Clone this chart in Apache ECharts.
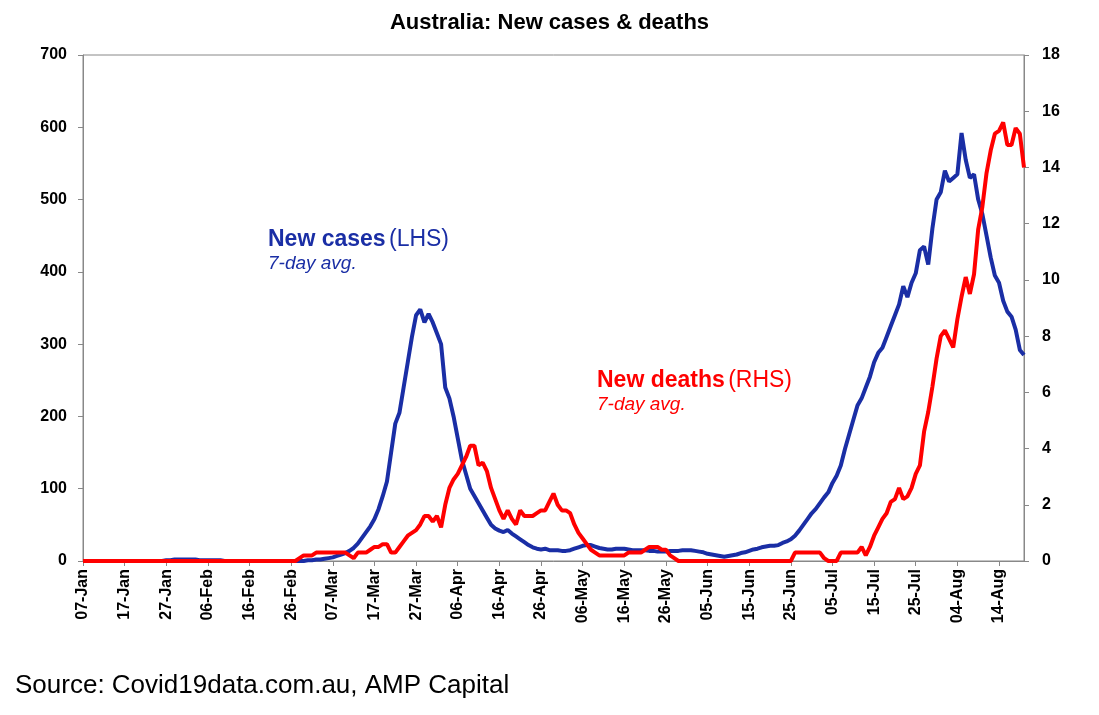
<!DOCTYPE html>
<html>
<head>
<meta charset="utf-8">
<script src="https://cdn.jsdelivr.net/npm/echarts@6/dist/echarts.min.js"></script>
<style>html,body{margin:0;padding:0;background:#fff}#c{width:1099px;height:715px}</style>
</head>
<body>
<div id="c"></div>
<script>
// daily dates 07-Jan .. 20-Aug
const months = ['Jan','Feb','Mar','Apr','May','Jun','Jul','Aug'];
const monthDays = [31,29,31,30,31,30,31,31];
const dates = [];
for (let m = 0; m < months.length; m++) {
    for (let d = 1; d <= monthDays[m]; d++) {
        if (m === 0 && d < 7) continue;
        if (m === 7 && d > 20) continue;
        dates.push((d < 10 ? '0' + d : '' + d) + '-' + months[m]);
    }
}

const newCases = [
    0,0,0,0,0,0,0,0,0,0,
    0,0,0,0,0,0,0,0,0,0,
    1,1,2,2,2,2,2,2,1,1,
    1,1,1,1,0,0,0,0,0,0,
    0,0,0,0,0,0,0,0,0,0,
    0,0,0,0,1,1,2,2,3,4,
    5,7,9,11,14,18,24,32,40,48,
    58,72,90,110,150,190,205,240,275,310,
    340,348,330,342,330,315,300,240,225,200,
    170,140,120,100,90,80,70,60,50,45,
    42,40,43,38,34,30,26,22,19,17,
    16,17,15,15,15,14,14,15,17,19,
    21,22,22,20,18,17,16,16,17,17,
    17,16,15,15,15,15,14,14,13,13,
    13,14,14,14,15,15,15,14,13,12,
    10,9,8,7,6,7,8,9,11,12,
    14,16,17,19,20,21,21,22,25,27,
    30,35,42,50,58,66,72,80,88,95,
    108,118,132,155,175,195,215,225,240,255,
    275,288,295,310,325,340,355,380,365,385,
    398,430,435,410,460,500,510,540,525,530,
    535,592,555,530,535,500,480,450,420,395,
    385,360,345,338,320,292,285
];

const newDeaths = [
    0,0,0,0,0,0,0,0,0,0,
    0,0,0,0,0,0,0,0,0,0,
    0,0,0,0,0,0,0,0,0,0,
    0,0,0,0,0,0,0,0,0,0,
    0,0,0,0,0,0,0,0,0,0,
    0,0,0.1,0.2,0.2,0.2,0.3,0.3,0.3,0.3,
    0.3,0.3,0.3,0.3,0.2,0.1,0.3,0.3,0.3,0.4,
    0.5,0.5,0.6,0.6,0.3,0.3,0.5,0.7,0.9,1.0,
    1.1,1.3,1.6,1.6,1.4,1.6,1.2,2.0,2.6,2.9,
    3.1,3.4,3.7,4.1,4.1,3.4,3.5,3.2,2.6,2.2,
    1.8,1.5,1.8,1.5,1.3,1.8,1.6,1.6,1.6,1.7,
    1.8,1.8,2.1,2.4,2.0,1.8,1.8,1.7,1.3,1.0,
    0.8,0.6,0.4,0.3,0.2,0.2,0.2,0.2,0.2,0.2,
    0.2,0.3,0.3,0.3,0.3,0.4,0.5,0.5,0.5,0.4,
    0.4,0.2,0.1,0,0,0,0,0,0,0,
    0,0,0,0,0,0,0,0,0,0,
    0,0,0,0,0,0,0,0,0,0,
    0,0.3,0.3,0.3,0.3,0.3,0.3,0.3,0.1,0,
    0,0,0.3,0.3,0.3,0.3,0.3,0.5,0.2,0.5,
    0.9,1.2,1.5,1.7,2.1,2.2,2.6,2.2,2.3,2.6,
    3.1,3.4,4.6,5.3,6.2,7.2,8.0,8.2,7.9,7.6,
    8.6,9.4,10.1,9.5,10.2,11.8,12.6,13.8,14.6,15.2,
    15.3,15.6,14.8,14.8,15.4,15.2,14.0
];

const FONT = 'Liberation Sans, Arial, sans-serif';
const BLUE = '#1a2ea5';
const RED = '#ff0000';

const chart = echarts.init(document.getElementById('c'));
const axisLbl = {fontFamily: FONT, fontWeight: 'bold', fontSize: 16, color: '#000'};
chart.setOption({
    animation: false,
    title: {
        text: 'Australia: New cases & deaths', left: 'center', top: 7,
        textStyle: {fontFamily: FONT, fontWeight: 'bold', fontSize: 22, color: '#000'}
    },
    grid: {left: 83, right: 75, top: 55, bottom: 154, show: true, borderColor: '#888', borderWidth: 1},
    xAxis: {
        type: 'category', data: dates, boundaryGap: false,
        axisLine: {lineStyle: {color: '#888'}},
        axisTick: {interval: 9, lineStyle: {color: '#888'}},
        axisLabel: Object.assign({interval: 9, rotate: 90, margin: 8}, axisLbl)
    },
    yAxis: [
        {type: 'value', min: 0, max: 700, interval: 100, splitLine: {show: false},
         axisLine: {show: true, lineStyle: {color: '#888'}}, axisTick: {show: true},
         axisLabel: Object.assign({margin: 16}, axisLbl)},
        {type: 'value', min: 0, max: 18, interval: 2, splitLine: {show: false},
         axisLine: {show: true, lineStyle: {color: '#888'}}, axisTick: {show: true},
         axisLabel: Object.assign({margin: 18}, axisLbl)}
    ],
    series: [
        {name: 'New cases', type: 'line', data: newCases, yAxisIndex: 0, showSymbol: false,
         lineStyle: {color: BLUE, width: 4}, itemStyle: {color: BLUE}},
        {name: 'New deaths', type: 'line', data: newDeaths, yAxisIndex: 1, showSymbol: false,
         lineStyle: {color: RED, width: 4}, itemStyle: {color: RED}}
    ],
    graphic: [
        {type: 'text', left: 268, top: 228, style: {
            text: '{b|New cases} {n|(LHS)}\n{i|7-day avg.}',
            fill: BLUE,
            rich: {
                b: {fontFamily: FONT, fontWeight: 'bold', fontSize: 23, fill: BLUE},
                n: {fontFamily: FONT, fontSize: 23, fill: BLUE},
                i: {fontFamily: FONT, fontStyle: 'italic', fontSize: 19, fill: BLUE, lineHeight: 26}
            }}},
        {type: 'text', left: 597, top: 369, style: {
            text: '{b|New deaths} {n|(RHS)}\n{i|7-day avg.}',
            fill: RED,
            rich: {
                b: {fontFamily: FONT, fontWeight: 'bold', fontSize: 23, fill: RED},
                n: {fontFamily: FONT, fontSize: 23, fill: RED},
                i: {fontFamily: FONT, fontStyle: 'italic', fontSize: 19, fill: RED, lineHeight: 26}
            }}},
        {type: 'text', left: 15, top: 673, style: {
            text: 'Source: Covid19data.com.au, AMP Capital',
            fontFamily: FONT, fontSize: 26, fill: '#000'}}
    ]
});
</script>
</body>
</html>
